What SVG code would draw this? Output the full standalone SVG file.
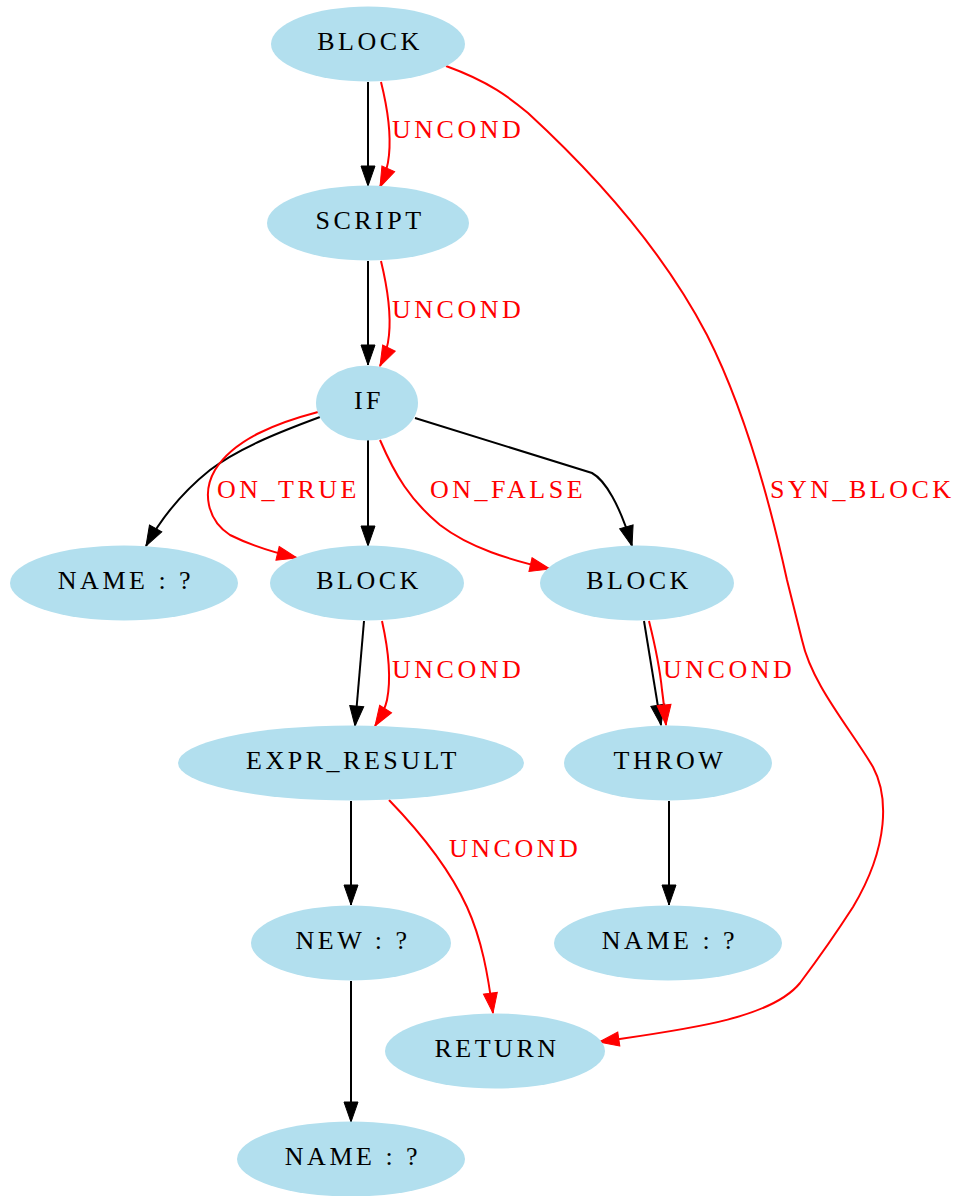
<svg xmlns="http://www.w3.org/2000/svg" width="958" height="1196" viewBox="0 0 958 1196">
<style>
.node ellipse{fill:#b2dfee;stroke:none}
.node text{font-family:"Liberation Serif","Times New Roman",serif;font-size:26px;letter-spacing:3.5px;fill:#000;text-anchor:middle}
.e{fill:none;stroke-width:2}
.k{stroke:#000;marker-end:url(#ak)}
.r{stroke:#f00;marker-end:url(#ar)}
.lbl{font-family:"Liberation Serif","Times New Roman",serif;font-size:26px;letter-spacing:3.5px;fill:#f00}
</style>
<defs>
<marker id="ak" markerUnits="userSpaceOnUse" markerWidth="22" markerHeight="16" refX="20" refY="7" orient="auto" overflow="visible"><path d="M0,0 L20,7 L0,14 z" fill="#000" stroke="#000" stroke-width="1"/></marker>
<marker id="ar" markerUnits="userSpaceOnUse" markerWidth="22" markerHeight="16" refX="20" refY="7" orient="auto" overflow="visible"><path d="M0,0 L20,7 L0,14 z" fill="#f00" stroke="#f00" stroke-width="1"/></marker>
</defs>
<rect width="958" height="1196" fill="#fff"/>
<g id="edges">
<path class="e k" d="M368,82 L368,186"/>
<path class="e r" d="M381,82 C388,110 391,135 389,155 C388,166 385,176 380,187"/>
<path class="e r" d="M446,66 C490,82 510,98 528,113 C590,170 660,245 707,335 C740,400 765,480 787,580 L802,640 C812,685 850,728 873,767 C888,795 890,845 853,907 C835,935 815,963 800,983 C770,1020 680,1030 599,1042"/>
<path class="e k" d="M368,261 L368,365"/>
<path class="e r" d="M381,261 C388,290 391,315 389,335 C388,346 385,356 380,366"/>
<path class="e k" d="M320,417 C285,430 240,447 210,470 C185,490 163,515 146,546"/>
<path class="e r" d="M318,412 C280,422 235,438 215,470 C202,492 207,520 230,535 C250,545 272,552 297,558"/>
<path class="e k" d="M368,440 L368,546"/>
<path class="e r" d="M380,440 C395,475 410,500 440,525 C470,548 510,560 550,569"/>
<path class="e k" d="M415,418 L592,473 C605,480 620,505 632,546"/>
<path class="e k" d="M364,621 L355,726"/>
<path class="e r" d="M382,621 C388,648 392,675 387,700 C385,710 380,718 375,726"/>
<path class="e k" d="M644,621 L661,725"/>
<path class="e r" d="M649,621 C655,645 660,670 662,690 C664,705 665,715 666,725"/>
<path class="e k" d="M351,801 L351,905"/>
<path class="e r" d="M389,800 C420,832 450,870 467,907 C482,940 488,975 493,1013"/>
<path class="e k" d="M669,801 L669,905"/>
<path class="e k" d="M351,981 L351,1122"/>
<text class="lbl" x="392" y="138">UNCOND</text>
<text class="lbl" x="392" y="318">UNCOND</text>
<text class="lbl" x="217" y="498">ON_TRUE</text>
<text class="lbl" x="430" y="498">ON_FALSE</text>
<text class="lbl" x="770" y="498">SYN_BLOCK</text>
<text class="lbl" x="392" y="678">UNCOND</text>
<text class="lbl" x="663" y="678">UNCOND</text>
<text class="lbl" x="449" y="857">UNCOND</text>
</g>
<g id="n1" class="node"><ellipse cx="368" cy="44" rx="97" ry="37.5"/><text x="370" y="50">BLOCK</text></g>
<g id="n2" class="node"><ellipse cx="368" cy="223" rx="101" ry="37.5"/><text x="370" y="229">SCRIPT</text></g>
<g id="n3" class="node"><ellipse cx="367" cy="403" rx="51" ry="37.5"/><text x="369" y="409">IF</text></g>
<g id="n4" class="node"><ellipse cx="124" cy="583" rx="114" ry="37.5"/><text x="126" y="589">NAME : ?</text></g>
<g id="n5" class="node"><ellipse cx="367" cy="583" rx="97" ry="37.5"/><text x="369" y="589">BLOCK</text></g>
<g id="n6" class="node"><ellipse cx="637" cy="583" rx="97" ry="37.5"/><text x="639" y="589">BLOCK</text></g>
<g id="n7" class="node"><ellipse cx="351" cy="763" rx="173" ry="37.5"/><text x="353" y="769">EXPR_RESULT</text></g>
<g id="n8" class="node"><ellipse cx="668" cy="763" rx="104" ry="37.5"/><text x="670" y="769">THROW</text></g>
<g id="n9" class="node"><ellipse cx="351" cy="943" rx="100" ry="37.5"/><text x="353" y="949">NEW : ?</text></g>
<g id="n10" class="node"><ellipse cx="668" cy="943" rx="114" ry="37.5"/><text x="670" y="949">NAME : ?</text></g>
<g id="n11" class="node"><ellipse cx="495" cy="1051" rx="110" ry="37.5"/><text x="497" y="1057">RETURN</text></g>
<g id="n12" class="node"><ellipse cx="351" cy="1159" rx="114" ry="37.5"/><text x="353" y="1165">NAME : ?</text></g>
</svg>
